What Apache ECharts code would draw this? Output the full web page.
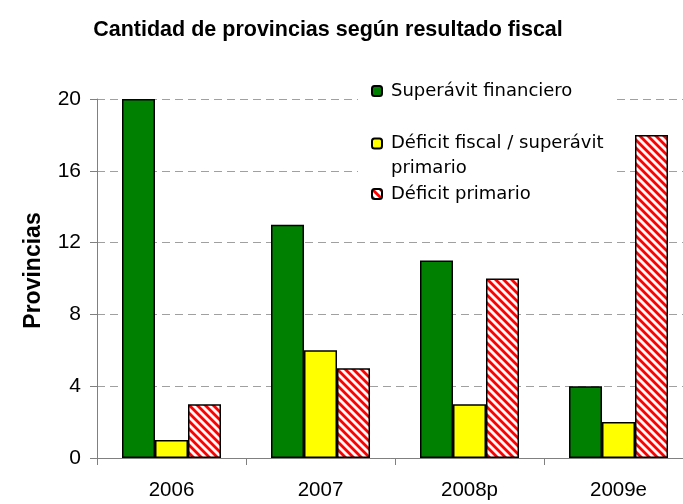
<!DOCTYPE html>
<html>
<head>
<meta charset="utf-8">
<script src="https://cdn.jsdelivr.net/npm/echarts@6/dist/echarts.min.js"></script>
<style>
html,body{margin:0;padding:0;background:#fff;}
#c{width:683px;height:504px;}
</style>
</head>
<body>
<div id="c"></div>
<script>
var categories = ['2006', '2007', '2008p', '2009e'];
var superavitFinanciero = [20, 13, 11, 4];
var deficitFiscal = [1, 6, 3, 2];
var deficitPrimario = [3, 5, 10, 18];
var seriesNames = ['Superávit financiero', 'Déficit fiscal / superávit primario', 'Déficit primario'];
var yTicks = [0, 4, 8, 12, 16, 20];

function hatch() {
  var c = document.createElement('canvas');
  c.width = 8; c.height = 8;
  var g = c.getContext('2d');
  g.fillStyle = '#ffffff';
  g.fillRect(0, 0, 8, 8);
  g.strokeStyle = '#ff0000';
  g.lineWidth = 2.8;
  [-8, 0, 8].forEach(function (o) {
    g.beginPath();
    g.moveTo(o - 1, -1);
    g.lineTo(o + 9, 9);
    g.stroke();
  });
  return c;
}
var hatchPattern = { image: hatch(), repeat: 'repeat' };

var FONT = 'Liberation Sans, Arial, sans-serif';
var LFONT = 'DejaVu Sans, sans-serif';
var chart = echarts.init(document.getElementById('c'), null, { renderer: 'canvas' });

var legendBase = {
  orient: 'vertical',
  itemWidth: 10,
  itemHeight: 10,
  backgroundColor: '#ffffff',
  selectedMode: false,
  textStyle: { fontFamily: LFONT, fontSize: 18, color: '#000' }
};

chart.setOption({
  animation: false,
  backgroundColor: '#ffffff',
  title: {
    text: 'Cantidad de provincias según resultado fiscal',
    left: 323, top: 14, textAlign: 'center',
    textStyle: { fontFamily: FONT, fontSize: 21.5, fontWeight: 'bold', color: '#000' }
  },
  legend: [
    Object.assign({}, legendBase, {
      left: 358, top: 76, padding: [6, 40, 6, 13],
      data: [seriesNames[0]],
      textStyle: Object.assign({}, legendBase.textStyle, { padding: [0, 0, 0, 4] })
    }),
    Object.assign({}, legendBase, {
      left: 358, top: 100, padding: [6, 11, 0, 13],
      data: [seriesNames[1]],
      formatter: function (n) { return '\u00a0\n' + n.replace(' primario', '\nprimario'); },
      textStyle: Object.assign({}, legendBase.textStyle, { lineHeight: 25, padding: [0, 0, 0, 4] })
    }),
    Object.assign({}, legendBase, {
      left: 358, top: 184, padding: [1, 11, 1, 13],
      data: [seriesNames[2]],
      textStyle: Object.assign({}, legendBase.textStyle, { padding: [0, 0, 0, 4] })
    })
  ],
  grid: { left: 97, width: 596, top: 99, bottom: 46, containLabel: false, outerBoundsMode: 'none' },
  xAxis: {
    type: 'category',
    data: categories,
    axisLine: { lineStyle: { color: '#808080', width: 1 } },
    axisTick: { show: true, length: 7, lineStyle: { color: '#808080' } },
    axisLabel: { margin: 22, fontFamily: FONT, fontSize: 20.5, color: '#000' }
  },
  yAxis: {
    type: 'value',
    min: yTicks[0], max: yTicks[yTicks.length - 1], interval: 4,
    name: 'Provincias',
    nameLocation: 'middle',
    nameGap: 52,
    nameTextStyle: { fontFamily: FONT, fontSize: 23, fontWeight: 'bold', color: '#000', padding: [0, 0, 0, 16] },
    axisLine: { show: true, lineStyle: { color: '#808080', width: 1 } },
    axisTick: { show: true, length: 7, lineStyle: { color: '#808080' } },
    axisLabel: { margin: 16, fontFamily: FONT, fontSize: 21, color: '#000' },
    splitLine: { show: true, lineStyle: { color: '#a0a0a0', type: [8, 5], width: 1 } }
  },
  series: [
    {
      name: seriesNames[0], type: 'bar', data: superavitFinanciero,
      barWidth: 33, barGap: '0%',
      itemStyle: { color: '#008000', borderColor: '#000', borderWidth: 1.5 }
    },
    {
      name: seriesNames[1], type: 'bar', data: deficitFiscal,
      barWidth: 33, barGap: '0%',
      itemStyle: { color: '#ffff00', borderColor: '#000', borderWidth: 1.5 }
    },
    {
      name: seriesNames[2], type: 'bar', data: deficitPrimario,
      barWidth: 33, barGap: '0%',
      itemStyle: { color: hatchPattern, borderColor: '#000', borderWidth: 1.5 }
    }
  ]
});
</script>
</body>
</html>
